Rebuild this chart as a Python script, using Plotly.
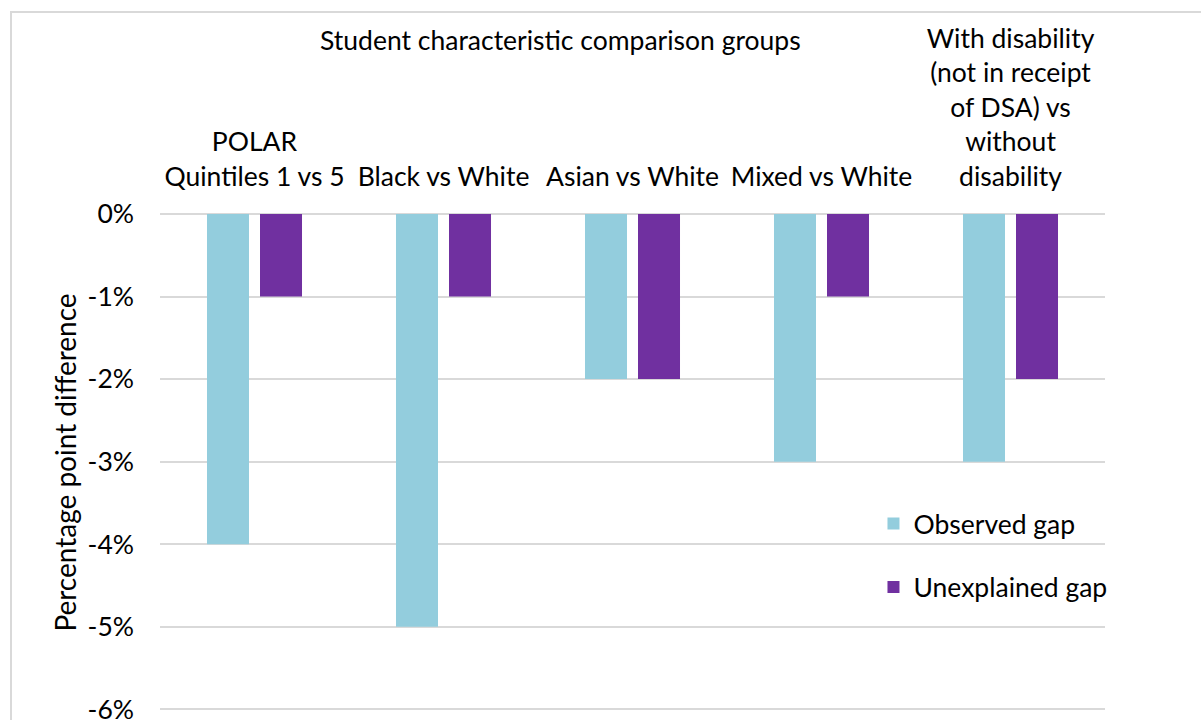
import plotly.graph_objects as go

categories = [
    "POLAR<br>Quintiles 1 vs 5",
    "Black vs White",
    "Asian vs White",
    "Mixed vs White",
    "With disability<br>(not in receipt<br>of DSA) vs<br>without<br>disability",
]
observed_gap = [-0.04, -0.05, -0.02, -0.03, -0.03]
unexplained_gap = [-0.01, -0.01, -0.02, -0.01, -0.02]
y_ticks = [0, -0.01, -0.02, -0.03, -0.04, -0.05, -0.06]
y_tick_labels = ["0%", "-1%", "-2%", "-3%", "-4%", "-5%", "-6%"]

FONT = "Lato"
FS = 26.5

fig = go.Figure()
fig.add_trace(go.Bar(x=categories, y=observed_gap, name="Observed gap",
                     marker=dict(color="#93CDDD", line_width=0), legendgroup="a"))
fig.add_trace(go.Bar(x=categories, y=unexplained_gap, name="Unexplained gap",
                     marker=dict(color="#7030A0", line_width=0), legendgroup="b"))

fig.update_layout(
    width=1201, height=720,
    margin=dict(l=160, r=96, t=214, b=9, autoexpand=False),
    paper_bgcolor="white", plot_bgcolor="white",
    font=dict(family=FONT, size=FS, color="#000000"),
    barmode="group", bargap=0.439, bargroupgap=0.2075,
    showlegend=True,
    legend=dict(x=0.755, y=0.425, xanchor="left", yanchor="top",
                bgcolor="rgba(0,0,0,0)", tracegroupgap=26,
                font=dict(family=FONT, size=FS)),
    xaxis=dict(side="top", showgrid=False, showline=False, ticks="",
               automargin=False,
               tickfont=dict(family=FONT, size=FS), ticklabelstandoff=22),
    yaxis=dict(range=[-0.0602, 0], tickvals=y_ticks, ticktext=y_tick_labels,
               ticklabeloverflow="allow", automargin=False,
               showgrid=True, gridcolor="#D9D9D9", gridwidth=1.5,
               zeroline=True, zerolinecolor="#D9D9D9", zerolinewidth=1.5,
               showline=False, ticks="", ticklabelstandoff=25,
               title=dict(text="Percentage point difference", standoff=2,
                          font=dict(family=FONT, size=28))),
    annotations=[dict(text="Student characteristic comparison groups",
                      xref="paper", yref="paper",
                      x=(560 - 160) / 945, y=(711 - 40) / 497,
                      xanchor="center", yanchor="middle", showarrow=False,
                      font=dict(family=FONT, size=FS))],
    shapes=[dict(type="rect", xref="paper", yref="paper",
                 x0=(11 - 160) / 945, x1=1.3, y0=-0.2, y1=(711 - 12) / 497,
                 line=dict(color="#D9D9D9", width=2), fillcolor="rgba(0,0,0,0)",
                 layer="below")],
)

fig.write_html("out.html")
